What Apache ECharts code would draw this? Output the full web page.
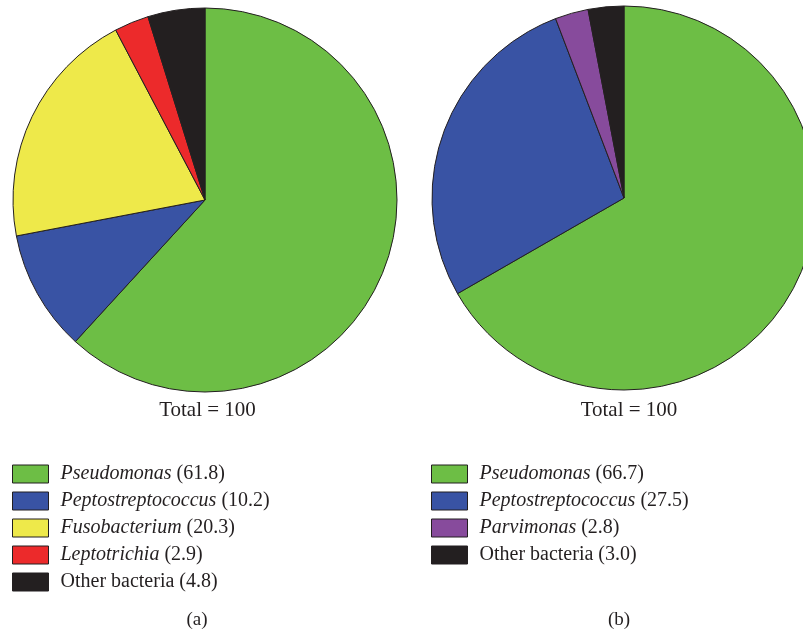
<!DOCTYPE html>
<html><head><meta charset="utf-8">
<script src="https://cdn.jsdelivr.net/npm/echarts@6/dist/echarts.min.js"></script>
<style>html,body{margin:0;padding:0;background:#fff}#c{width:803px;height:633px}</style>
</head><body><div id="c"></div>
<script>
const namesA = ['Pseudomonas','Peptostreptococcus','Fusobacterium','Leptotrichia','Other bacteria'];
const valuesA = [61.8, 10.2, 20.3, 2.9, 4.8];
const namesB = ['Pseudomonas','Peptostreptococcus','Parvimonas','Other bacteria'];
const valuesB = [66.7, 27.5, 2.8, 3.0];
const italicNames = ['Pseudomonas','Peptostreptococcus','Fusobacterium','Leptotrichia','Parvimonas'];
const colorMap = {
  'Pseudomonas':'#6dbe45','Peptostreptococcus':'#3953a4','Fusobacterium':'#eee94a',
  'Leptotrichia':'#ec2a2b','Parvimonas':'#874b9c','Other bacteria':'#231f20'
};
const totalLabel = 'Total = 100';
const panelLabels = ['(a)','(b)'];

const FONT = '"Liberation Serif", "DejaVu Serif", serif';
const border = '#231f20';

function mkData(names, values){
  return names.map((n,i)=>({name:n, value:values[i], itemStyle:{color:colorMap[n]}}));
}
function fmt(names, values){
  return function(name){
    const v = values[names.indexOf(name)].toFixed(1);
    if (italicNames.includes(name)) return '{i|' + name + '} {n|(' + v + ')}';
    return '{n|' + name + ' (' + v + ')}';
  };
}
function legend(left, names, values){
  return {
    orient:'vertical', left:left, top:464, padding:0, itemWidth:36, itemHeight:18, itemGap:7,
    icon:'rect', data:names, selectedMode:false,
    itemStyle:{borderColor:border, borderWidth:1},
    formatter: fmt(names, values),
    textStyle:{
      fontFamily:FONT, fontSize:20, color:'#231f20', padding:[0,0,0,7], lineHeight:18,
      rich:{
        i:{fontFamily:FONT, fontSize:20, fontStyle:'italic', color:'#231f20', lineHeight:18},
        n:{fontFamily:FONT, fontSize:20, color:'#231f20', lineHeight:18}
      }
    }
  };
}
const chart = echarts.init(document.getElementById('c'), null, {renderer:'canvas'});
const pieCommon = {
  type:'pie', radius:192, startAngle:90, clockwise:true, label:{show:false}, labelLine:{show:false},
  silent:true, animation:false,
  itemStyle:{borderColor:border, borderWidth:1}
};
function txt(x, y, s, size){
  return {type:'text', x:x, y:y, style:{text:s, font:size + 'px ' + FONT, fill:'#231f20', textAlign:'center', textVerticalAlign:'middle'}};
}
chart.setOption({
  animation:false,
  legend:[legend(12, namesA, valuesA), legend(431, namesB, valuesB)],
  series:[
    Object.assign({}, pieCommon, {center:[205,200], data:mkData(namesA, valuesA)}),
    Object.assign({}, pieCommon, {center:[624,198], data:mkData(namesB, valuesB)})
  ],
  graphic:[
    txt(207.5, 410, totalLabel, 21),
    txt(629, 410, totalLabel, 21),
    txt(197, 620, panelLabels[0], 19),
    txt(619, 620, panelLabels[1], 19)
  ]
});
</script></body></html>
